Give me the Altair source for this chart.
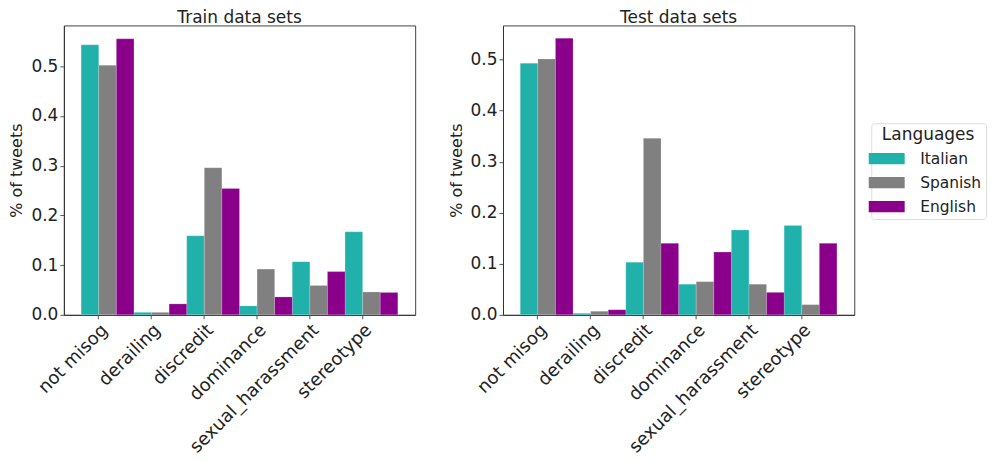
import altair as alt
import pandas as pd

categories = ["not misog", "derailing", "discredit", "dominance", "sexual_harassment", "stereotype"]
languages = ["Italian", "Spanish", "English"]
colors = ["#20B2AA", "#808080", "#8B008B"]

train_italian = [0.543, 0.005, 0.159, 0.018, 0.107, 0.167]
train_spanish = [0.502, 0.005, 0.296, 0.092, 0.059, 0.046]
train_english = [0.555, 0.022, 0.254, 0.036, 0.087, 0.045]

test_italian = [0.493, 0.003, 0.103, 0.060, 0.166, 0.175]
test_spanish = [0.501, 0.007, 0.346, 0.065, 0.060, 0.020]
test_english = [0.542, 0.010, 0.140, 0.123, 0.044, 0.140]


def build(it, es, en):
    rows = []
    for lang, vals in zip(languages, [it, es, en]):
        for c, v in zip(categories, vals):
            rows.append({"category": c, "language": lang, "value": v})
    return pd.DataFrame(rows)


FONT = "DejaVu Sans"

legend = alt.Legend(
    title="Languages",
    orient="none",
    legendX=809,
    legendY=98,
    symbolType="M-1.6,-0.5L1.6,-0.5L1.6,0.5L-1.6,0.5Z",
    symbolSize=506,
    symbolStrokeWidth=0,
    titleAnchor="middle",
    titleFontSize=17,
    titleFontWeight="normal",
    titleColor="#222",
    labelFontSize=15.5,
    labelColor="#222",
    labelOffset=22,
    rowPadding=4,
    padding=4,
    strokeColor="#dddddd",
    fillColor="white",
    cornerRadius=3,
    titlePadding=3,
)


def panel(df, title, ymax):
    color = alt.Color(
        "language:N",
        scale=alt.Scale(domain=languages, range=colors),
        sort=languages,
        legend=legend,
    )
    return alt.Chart(df).mark_bar(stroke="white", strokeWidth=0.3, strokeOpacity=0.6).encode(
        x=alt.X(
            "category:N",
            sort=categories,
            scale=alt.Scale(paddingInner=0, paddingOuter=0.328, align=0.245),
            axis=alt.Axis(
                title=None,
                labelAngle=-45,
                labelAlign="right",
                labelBaseline="top",
                labelFontSize=18,
                labelColor="#222",
                labelPadding=2,
                tickSize=4,
                tickColor="#555",
                domainColor="#333",
            ),
        ),
        xOffset=alt.XOffset("language:N", sort=languages, scale=alt.Scale(domain=languages, range=[8.8, 61.7])),
        y=alt.Y(
            "value:Q",
            scale=alt.Scale(domain=[0, ymax], nice=False, zero=True),
            axis=alt.Axis(
                title="% of tweets",
                values=[0, 0.1, 0.2, 0.3, 0.4, 0.5],
                format=".1f",
                grid=False,
                labelFontSize=17,
                labelColor="#222",
                titleFontSize=16,
                titleFontWeight="normal",
                titleColor="#222",
                titlePadding=6,
                tickSize=4,
                tickColor="#555",
                domainColor="#333",
            ),
        ),
        color=color,
    ).properties(
        width=352,
        height=290,
        title=alt.TitleParams(title, fontSize=17, fontWeight="normal", color="#222", offset=-2),
    )


left = panel(build(train_italian, train_spanish, train_english), "Train data sets", 0.582)
right = panel(build(test_italian, test_spanish, test_english), "Test data sets", 0.567)

chart = alt.hconcat(left, right, spacing=31).properties(padding=0).configure(font=FONT).configure_view(
    stroke="#444", strokeWidth=1
).configure_concat(spacing=31)

chart.save("out.html", embed_options={"renderer": "svg", "actions": False})
